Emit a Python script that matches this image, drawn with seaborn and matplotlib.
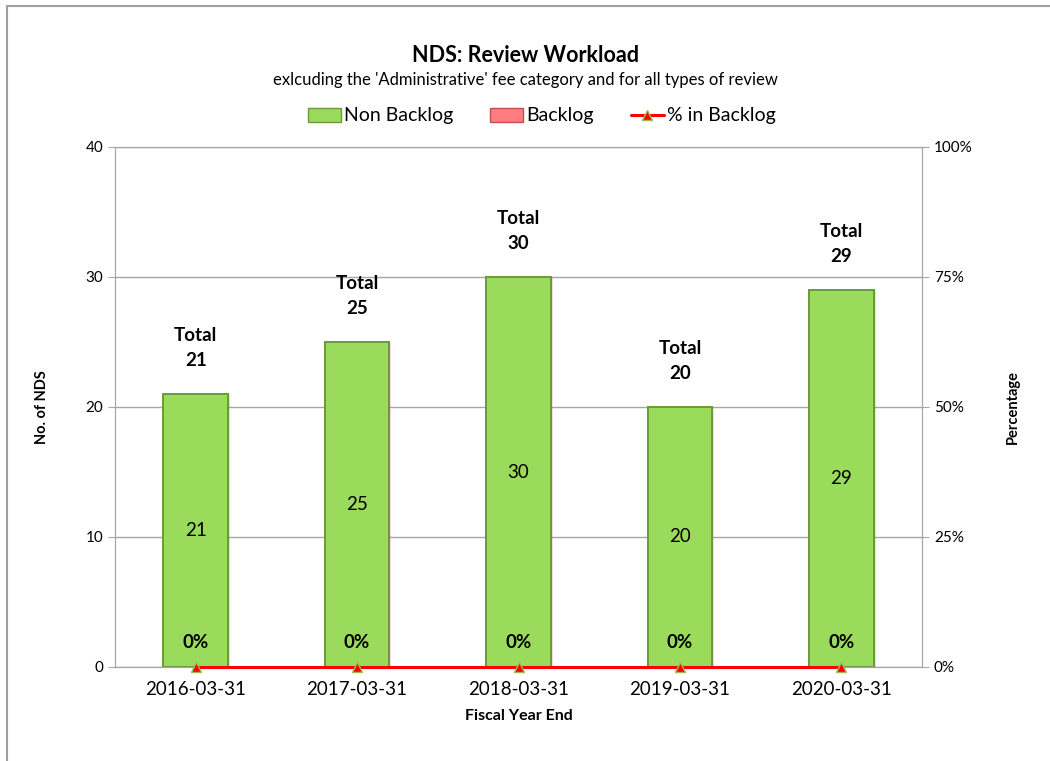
import numpy as np
import pandas as pd
import matplotlib as mpl
mpl.use('Agg')
import matplotlib.pyplot as plt
from matplotlib.lines import Line2D
from matplotlib.patches import Patch
import seaborn as sns

# chart data
years = ['2016-03-31', '2017-03-31', '2018-03-31', '2019-03-31', '2020-03-31']
non_backlog = [21, 25, 30, 20, 29]
backlog = [0, 0, 0, 0, 0]
pct_backlog = [0, 0, 0, 0, 0]

sns.set_style('white')
plt.rcParams['font.family'] = ['Lato', 'DejaVu Sans']
plt.rcParams['text.color'] = 'black'
plt.rcParams['axes.labelcolor'] = 'black'
plt.rcParams['xtick.color'] = 'black'
plt.rcParams['ytick.color'] = 'black'

df = pd.DataFrame({'year': years, 'non_backlog': non_backlog, 'backlog': backlog,
                   'pct': pct_backlog})
df['total'] = df['non_backlog'] + df['backlog']

fig = plt.figure(figsize=(10.5, 7.61), dpi=100)
ax = fig.add_axes([115 / 1050, 1 - 667 / 761, 807 / 1050, 520 / 761])

green = '#9bdb5b'
green_edge = '#6a9a3a'
red = '#ff7c80'
sns.barplot(data=df, x='year', y='total', color=red, width=0.4, ax=ax,
            edgecolor='#c0504d', linewidth=1, saturation=1, zorder=3)
sns.barplot(data=df, x='year', y='non_backlog', color=green, width=0.4, ax=ax,
            edgecolor=green_edge, linewidth=1.4, saturation=1, zorder=3)

ax.set_ylim(0, 40)
ax.set_xlim(-0.5, 4.5)
ax.set_yticks([0, 10, 20, 30, 40])
ax.yaxis.grid(True, color='#a6a6a6', linewidth=1, zorder=0)
for s in ax.spines.values():
    s.set_color('#a6a6a6')
ax.tick_params(axis='y', labelsize=11, length=5, color='#a6a6a6', direction='out', left=True)
ax.tick_params(axis='x', labelsize=13.5, length=0, pad=10)
ax.set_xlabel('Fiscal Year End', fontsize=11.5, fontweight='bold', labelpad=8)
ax.set_ylabel('No. of NDS', fontsize=10.5, fontweight='bold', labelpad=26)

for i, (nb, tot, p) in enumerate(zip(df['non_backlog'], df['total'], df['pct'])):
    ax.text(i, nb / 2, f'{nb}', ha='center', va='center', fontsize=13.5, zorder=5)
    ax.text(i, tot + 1.9, f'Total\n{tot}', ha='center', va='bottom', fontsize=13.5,
            fontweight='bold', linespacing=1.6, zorder=5)

ax2 = ax.twinx()
ax2.set_ylim(0, 1)
ax2.set_yticks([0, 0.25, 0.5, 0.75, 1.0])
ax2.set_yticklabels(['0%', '25%', '50%', '75%', '100%'])
ax2.tick_params(axis='y', labelsize=11, length=5, color='#a6a6a6', direction='out', right=True)
for s in ax2.spines.values():
    s.set_color('#a6a6a6')
ax2.set_ylabel('Percentage', fontsize=10.5, fontweight='bold', labelpad=24)
ax2.plot(range(len(years)), df['pct'], color='#ff0000', linewidth=2.2, marker='^',
         markersize=7, markerfacecolor='#ff0000', markeredgecolor='#9bbb59',
         clip_on=False, zorder=6)
for i, p in enumerate(df['pct']):
    ax2.text(i, p + 0.03, f'{p:.0%}', ha='center', va='bottom', fontsize=13.5,
             fontweight='bold', zorder=7)

fig.text(0.5, 1 - 55 / 761, 'NDS: Review Workload', ha='center', va='center',
         fontsize=15.5, fontweight='bold')
fig.text(0.5, 1 - 80 / 761, "exlcuding the 'Administrative' fee category and for all types of review",
         ha='center', va='center', fontsize=12)

handles = [Patch(facecolor=green, edgecolor=green_edge),
           Patch(facecolor=red, edgecolor='#c0504d'),
           Line2D([0], [0], color='#ff0000', linewidth=2.2, marker='^', markersize=7,
                  markerfacecolor='#ff0000', markeredgecolor='#9bbb59')]
fig.legend(handles, ['Non Backlog', 'Backlog', '% in Backlog'], loc='center',
           bbox_to_anchor=(0.516, 1 - 116 / 761), ncol=3, frameon=False, fontsize=14,
           handlelength=1.7, handletextpad=0.15, columnspacing=1.9)

# outer chart border (top and left visible)
fig.add_artist(Line2D([7 / 1050, 7 / 1050], [0, 1 - 6 / 761], color='#a0a0a0', linewidth=1.5))
fig.add_artist(Line2D([7 / 1050, 1], [1 - 6 / 761, 1 - 6 / 761], color='#a0a0a0', linewidth=1.5))

fig.savefig('out.png', dpi=100)
